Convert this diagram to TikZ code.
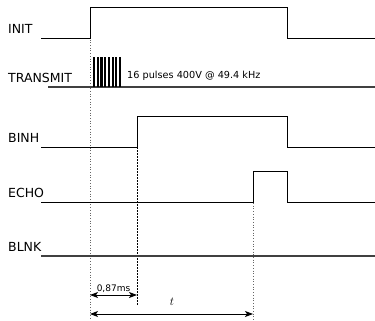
\documentclass[tikz,border=0pt]{standalone}
\usepackage{fontspec}
\setmainfont{DejaVu Sans}
\usetikzlibrary{arrows.meta}
\begin{document}
\begin{tikzpicture}[x=1pt,y=-1pt,
  sig/.style={line width=0.9pt,black},
  gsig/.style={line width=1.1pt,black!75},
  lbl/.style={anchor=base west,inner sep=0pt,font=\fontsize{12.5}{12.5}\selectfont},
  guide/.style={line width=0.7pt,black!60,dotted},
  guided/.style={line width=0.6pt,black,dashed,dash pattern=on 2pt off 1pt},
  dim/.style={line width=1pt,{Stealth[length=8pt,width=6pt,inset=2pt]}-{Stealth[length=8pt,width=6pt,inset=2pt]}},
  pulse/.style={fill=black,draw=none}]
\useasboundingbox (0,0) rectangle (375,321);
% labels
\node[lbl] (linit) at (8,34) {INIT};
\node[lbl] (ltx) at (8,82) {TRANSMIT};
\node[lbl] (lbinh) at (8,142) {BINH};
\node[lbl] (lecho) at (8,197) {ECHO};
\node[lbl] (lblnk) at (8,251) {BLNK};
% guide lines
\draw[guide] (90,37) -- (90,320);
\draw[guide] (253,203) -- (253,320);
\draw[guided] (137,147) -- (137,305);
% INIT
\draw[sig] (41,38) -- (90,38) -- (90,7) -- (287,7) -- (287,38) -- (375,38);
% TRANSMIT
\draw[gsig] (48,87) -- (375,87);
\foreach \i in {0,...,7}{
  \fill[pulse] (93+\i*3.7,57) rectangle ++(2.1,30);
}
\node[anchor=base west,inner sep=0pt,font=\fontsize{9.7}{9.7}\selectfont] (ptext) at (127,78) {16 pulses 400V @ 49.4 kHz};
% BINH
\draw[sig] (41,147) -- (137,147) -- (137,116) -- (287,116) -- (287,147) -- (375,147);
% ECHO
\draw[sig] (41,202) -- (253,202) -- (253,171) -- (287,171) -- (287,202) -- (375,202);
% BLNK
\draw[gsig] (41,256) -- (375,256);
% dimensions
\coordinate (a0) at (90,295);
\coordinate (a1) at (137,295);
\coordinate (b0) at (90,314);
\coordinate (b1) at (253,314);
\draw[dim] (a0) -- (a1);
\node[anchor=base,inner sep=0pt,font=\fontsize{9}{9}\selectfont] (l087) at (113.5,291) {0,87ms};
\draw[dim] (b0) -- (b1);
\node[inner sep=0pt,font=\fontsize{13}{13}\selectfont] (lt) at (172,302) {$t$};
\end{tikzpicture}
\end{document}
